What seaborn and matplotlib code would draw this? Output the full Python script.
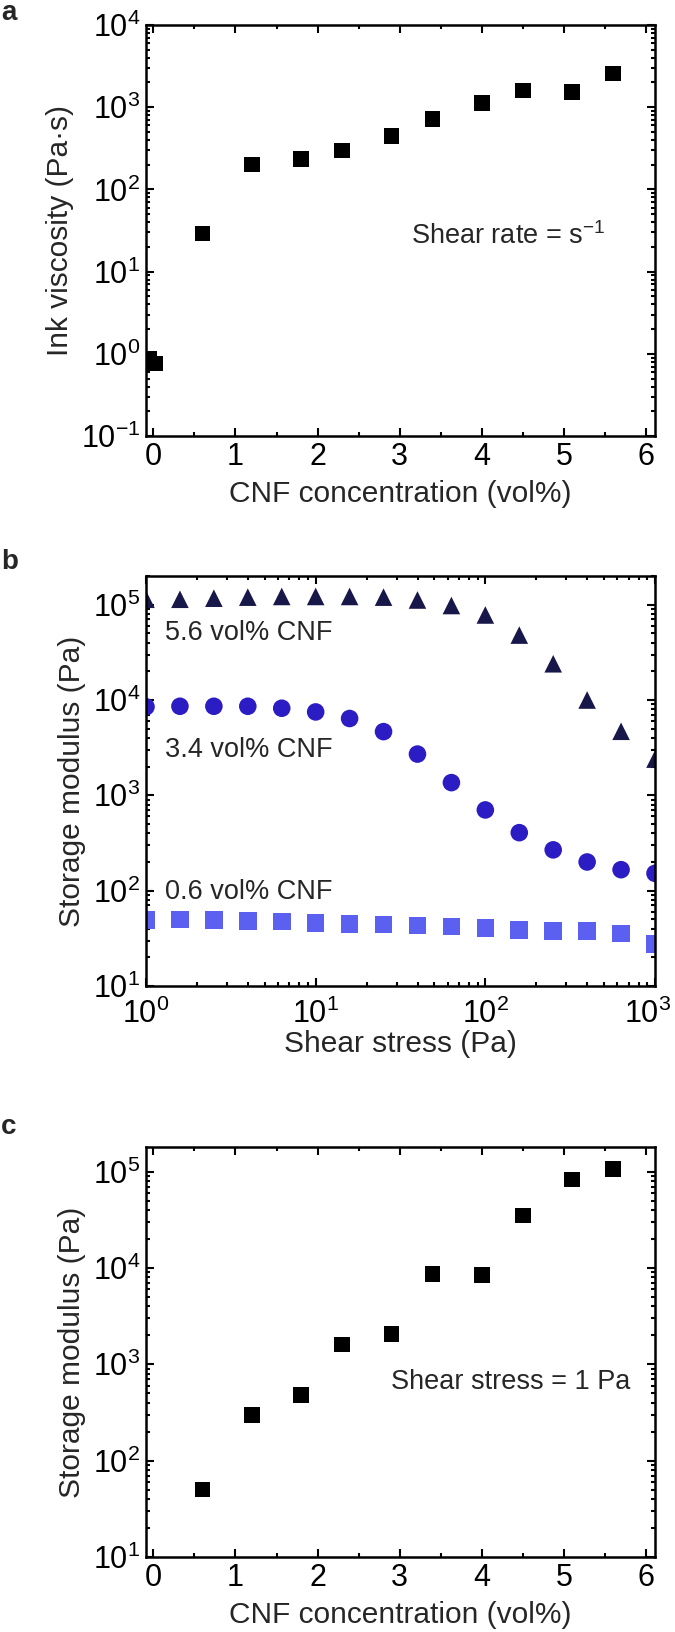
import numpy as np
import pandas as pd
import seaborn as sns
import matplotlib
matplotlib.use("Agg")
import matplotlib.pyplot as plt
import matplotlib.transforms as mtransforms
from matplotlib.ticker import LogLocator, LogFormatterMathtext, MultipleLocator, NullFormatter

# ---- data ----
# a) ink viscosity vs CNF concentration
conc_a = [-0.05, 0.02, 0.6, 1.2, 1.8, 2.3, 2.9, 3.4, 4.0, 4.5, 5.1, 5.6]
viscosity = [0.87, 0.76, 29, 200, 233, 296, 447, 720, 1120, 1590, 1520, 2580]

# b) storage modulus vs shear stress
shear_stress = [1.0, 1.585, 2.512, 3.981, 6.31, 10.0, 15.85, 25.12, 39.81,
                63.1, 100.0, 158.5, 251.2, 398.1, 631.0, 1000.0]
g_56 = [1.14e5, 1.14e5, 1.17e5, 1.20e5, 1.22e5, 1.22e5, 1.22e5, 1.20e5, 1.12e5,
        9.8e4, 7.8e4, 4.8e4, 2.4e4, 1.0e4, 4.7e3, 2.4e3]
g_34 = [8.5e3, 8.6e3, 8.6e3, 8.6e3, 8.2e3, 7.5e3, 6.4e3, 4.66e3, 2.71e3,
        1.36e3, 703, 406, 268, 200, 166, 152]
g_06 = [49, 49.9, 49, 48.2, 47.3, 46.1, 45, 44.2, 43.1,
        42, 40.6, 38.5, 37.9, 37.9, 35.4, 27.4]
series_b = ["5.6 vol% CNF", "3.4 vol% CNF", "0.6 vol% CNF"]
ticks_b = [1, 10, 100, 1000]

# c) storage modulus at 1 Pa vs CNF concentration
conc_c = [0.6, 1.2, 1.8, 2.3, 2.9, 3.4, 4.0, 4.5, 5.1, 5.6]
modulus_c = [50, 297, 480, 1600, 2050, 8700, 8500, 35000, 83000, 107000]

# ---- style ----
sns.set_theme(style="ticks")
plt.rcParams["font.family"] = ["Liberation Sans", "DejaVu Sans"]
plt.rcParams["mathtext.fontset"] = "custom"
plt.rcParams["mathtext.rm"] = "Liberation Sans"
plt.rcParams["mathtext.it"] = "Liberation Sans:italic"
plt.rcParams["axes.linewidth"] = 1.8

TICK_FS = 22
LABEL_FS = 21.5
NOTE_FS = 19.5
colors_b = ["#17174a", "#2b1cc4", "#5b60f0"]
markers_b = ["^", "o", "s"]

fig = plt.figure(figsize=(6.75, 16.32), dpi=100)
W, H = 675, 1632
left, width = 146 / W, 509 / W
ax_a = fig.add_axes([left, 1 - 436 / H, width, 411 / H])
ax_b = fig.add_axes([left, 1 - 986 / H, width, 410 / H])
ax_c = fig.add_axes([left, 1 - 1557 / H, width, 410 / H])


def style_axis(ax, logx=False):
    ax.set_yscale("log")
    ax.yaxis.set_major_locator(LogLocator(base=10))
    ax.yaxis.set_minor_locator(LogLocator(base=10, subs=np.arange(2, 10)))
    ax.yaxis.set_major_formatter(LogFormatterMathtext())
    ax.yaxis.set_minor_formatter(NullFormatter())
    if logx:
        ax.set_xscale("log")
        ax.xaxis.set_minor_locator(LogLocator(base=10, subs=np.arange(2, 10)))
        ax.xaxis.set_minor_formatter(NullFormatter())
    else:
        ax.xaxis.set_major_locator(MultipleLocator(1))
        ax.xaxis.set_minor_locator(MultipleLocator(0.5))
    ax.tick_params(which="both", direction="in", top=True, right=True,
                   labelsize=TICK_FS, colors="black", width=1.5)
    ax.tick_params(which="major", length=6, pad=4)
    ax.tick_params(which="minor", length=3)
    for sp in ax.spines.values():
        sp.set_color("black")
        sp.set_linewidth(1.8)


# a
sns.scatterplot(x=conc_a, y=viscosity, ax=ax_a, marker="s", s=125,
                color="black", edgecolor="none", linewidth=0)
style_axis(ax_a)
ax_a.set_xlim(-0.09, 6.11)
ax_a.set_ylim(0.1, 1e4)
ax_a.set_xlabel("CNF concentration (vol%)", fontsize=LABEL_FS, labelpad=6)
ax_a.set_ylabel("Ink viscosity (Pa·s)", fontsize=LABEL_FS, labelpad=5)
ax_a.text(3.14, 27, "Shear rate = s$^{-1}$", fontsize=NOTE_FS, va="center", ha="left")

# b
for vals, name, col, mk in zip([g_56, g_34, g_06], series_b, colors_b, markers_b):
    sns.scatterplot(x=shear_stress, y=vals, ax=ax_b, marker=mk, s=160,
                    color=col, edgecolor="none", linewidth=0)
style_axis(ax_b, logx=True)
ax_b.set_xticks(ticks_b)
ax_b.xaxis.set_major_formatter(LogFormatterMathtext())
ax_b.tick_params(axis="x", which="major", pad=9)
ax_b.set_xlim(1, 1000)
ax_b.set_ylim(10, 2e5)
# nudge the right-most tick label so it stays inside the figure
last = ax_b.xaxis.get_major_ticks()[-1].label1
last.set_transform(last.get_transform()
                   + mtransforms.ScaledTranslation(-5 / 72, 0, fig.dpi_scale_trans))
label_y = [5.1e4, 3.0e3, 98]
for name, yv in zip(series_b, label_y):
    ax_b.text(1.3, yv, name, fontsize=NOTE_FS, va="center", ha="left")
ax_b.set_xlabel("Shear stress (Pa)", fontsize=LABEL_FS, labelpad=0)
ax_b.set_ylabel("Storage modulus (Pa)", fontsize=LABEL_FS, labelpad=5)

# c
sns.scatterplot(x=conc_c, y=modulus_c, ax=ax_c, marker="s", s=125,
                color="black", edgecolor="none", linewidth=0)
style_axis(ax_c)
ax_c.set_xlim(-0.09, 6.11)
ax_c.set_ylim(10, 1.8e5)
ax_c.text(2.9, 650, "Shear stress = 1 Pa", fontsize=NOTE_FS, va="center", ha="left")
ax_c.set_xlabel("CNF concentration (vol%)", fontsize=LABEL_FS, labelpad=6)
ax_c.set_ylabel("Storage modulus (Pa)", fontsize=LABEL_FS, labelpad=5)

# panel letters
for letter, ypix in zip(["a", "b", "c"], [13, 562, 1127]):
    fig.text(0.002, 1 - ypix / H, letter, fontsize=20, fontweight="bold",
             ha="left", va="center")

fig.savefig("out.png", dpi=100)
